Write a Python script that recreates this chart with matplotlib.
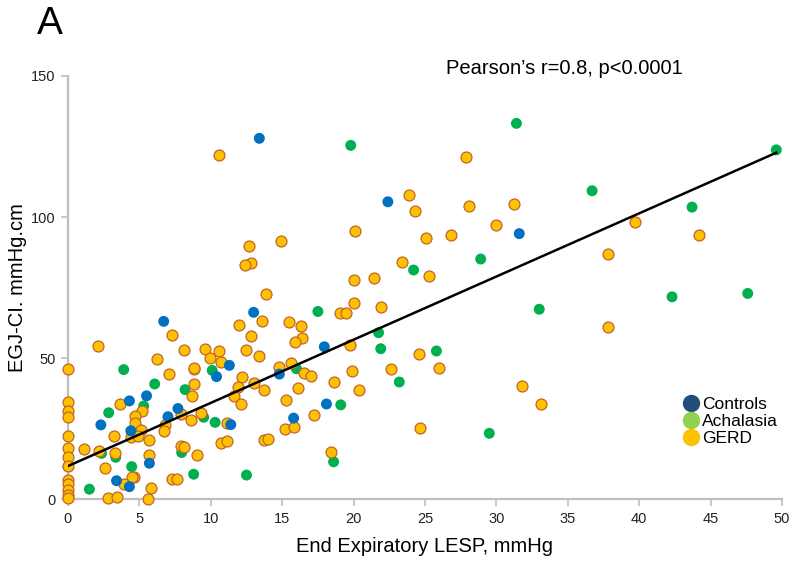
import matplotlib
matplotlib.use("Agg")
import matplotlib.pyplot as plt
from matplotlib.lines import Line2D
import numpy as np

plt.rcParams['font.family'] = ['Liberation Sans', 'DejaVu Sans']

# ---- data (End expiratory LESP mmHg, EGJ-CI mmHg.cm) ----
controls_x = [13.4, 22.4, 31.6, 13.0, 6.7, 17.95, 11.3, 10.4, 14.8, 5.5, 18.1, 7.7, 7.0,
              15.8, 11.4, 2.3, 4.3, 4.4, 5.7, 3.4, 4.3]
controls_y = [127.9, 105.4, 94.1, 66.2, 63.0, 54.0, 47.4, 43.4, 44.3, 36.6, 33.7, 32.1, 29.2,
              28.7, 26.4, 26.3, 34.8, 24.2, 12.7, 6.5, 4.4]

achalasia_x = [31.4, 19.8, 49.6, 36.7, 43.7, 28.9, 24.2, 42.3, 47.6, 33.0, 17.5, 21.75, 21.9,
               25.8, 10.1, 3.9, 16.0, 23.2, 6.07, 8.2, 19.1, 5.3, 2.85, 9.5, 10.3, 29.5, 7.96,
               2.35, 3.34, 4.46, 18.6, 12.5, 8.8, 1.5, 0.0]
achalasia_y = [133.2, 125.4, 123.8, 109.3, 103.5, 85.1, 81.2, 71.7, 72.9, 67.3, 66.5, 59.0, 53.3,
               52.5, 45.6, 45.9, 46.2, 41.5, 40.8, 38.8, 33.4, 33.0, 30.6, 29.0, 27.2, 23.3, 16.5,
               16.2, 14.8, 11.5, 13.2, 8.5, 8.8, 3.5, 11.5]

gerd_x = [0, 0, 0, 0, 0, 0, 0, 0, 0, 0, 0, 0, 0,
          10.6, 27.9, 23.9, 24.3, 28.1, 31.2, 39.7, 29.95, 20.1, 26.8, 25.1, 44.2, 14.9, 12.7,
          12.8, 12.4, 23.4, 25.3, 21.4, 20.0, 37.8, 13.9, 20.0, 21.9, 19.05, 19.5, 13.6, 15.5,
          16.3, 12.0, 37.8, 12.8, 16.4, 15.9, 7.26, 2.1, 19.75, 12.5, 8.1, 9.6, 10.6, 24.6,
          13.4, 9.96, 10.7, 6.2, 15.6, 14.8, 26.0, 22.6, 19.9, 8.8, 8.8, 7.1, 16.55, 17.0,
          12.2, 13.0, 18.6, 8.8, 31.8, 11.9, 16.1, 13.7, 20.35, 8.65, 11.6, 15.3, 12.1, 33.1,
          3.66, 5.2, 7.9, 9.3, 17.25, 4.67, 8.6, 4.7, 11.1, 6.8, 6.7, 5.1, 15.2, 15.8, 24.65,
          3.2, 4.4, 4.9, 5.7, 10.7, 11.1, 13.7, 14.0, 7.9, 8.1, 1.15, 2.2, 3.3, 18.4, 5.7,
          9.0, 2.6, 4.65, 4.5, 7.3, 7.6, 3.9, 5.8, 2.8, 3.4, 5.6]
gerd_y = [46.2, 34.5, 31.3, 29.0, 22.4, 18.1, 14.8, 11.7, 6.7, 5.2, 3.2, 1.6, 0.2,
          121.9, 121.3, 107.9, 102.0, 103.9, 104.7, 98.1, 97.0, 95.0, 93.5, 92.4, 93.6, 91.6, 89.8,
          83.6, 83.1, 83.9, 79.0, 78.5, 77.5, 86.9, 72.8, 69.6, 68.2, 66.0, 65.8, 63.3, 62.8,
          61.3, 61.8, 60.9, 57.7, 57.0, 55.6, 58.2, 54.3, 54.6, 52.9, 53.0, 53.2, 52.6, 51.4,
          50.6, 50.1, 48.6, 49.6, 48.1, 46.7, 46.3, 46.2, 45.4, 46.1, 46.6, 44.3, 44.6, 43.6,
          43.1, 41.1, 41.5, 40.9, 40.2, 39.8, 39.4, 38.5, 38.5, 36.5, 36.5, 35.0, 33.8, 33.6,
          33.7, 31.3, 30.0, 30.6, 29.8, 29.5, 27.9, 27.1, 26.8, 26.4, 24.2, 24.5, 24.8, 25.4, 25.1,
          22.2, 22.0, 22.2, 20.8, 19.7, 20.6, 20.9, 21.4, 18.8, 18.5, 17.7, 17.0, 16.2, 16.6, 15.5,
          15.6, 10.9, 7.7, 7.9, 7.1, 7.1, 5.2, 4.0, 0.35, 0.6, 0.1]

fit_intercept = 11.7
fit_slope = 2.24
fit_x_range = [0.0, 49.6]

x_ticks = [0, 5, 10, 15, 20, 25, 30, 35, 40, 45, 50]
y_ticks = [0, 50, 100, 150]

# ---- figure ----
fig = plt.figure(figsize=(8.0, 5.62), dpi=100)
ax = fig.add_axes([0.085, 0.112, 0.8925, 0.7528])

ms = 62
ax.scatter(achalasia_x, achalasia_y, s=ms, color='#00B050', edgecolors='none', zorder=3,
           clip_on=False)
ax.scatter(gerd_x, gerd_y, s=ms, color='#FFC000', edgecolors='#C0652A', linewidths=0.9,
           zorder=4, clip_on=False)
ax.scatter(controls_x, controls_y, s=ms, color='#0070C0', edgecolors='none', zorder=5,
           clip_on=False)

fx = np.array(fit_x_range)
ax.plot(fx, fit_intercept + fit_slope * fx, color='black', lw=1.8, zorder=6)

ax.set_xlim(0, 50)
ax.set_ylim(0, 150)
ax.set_xticks(x_ticks)
ax.set_yticks(y_ticks)
for s in ['top', 'right']:
    ax.spines[s].set_visible(False)
for s in ['left', 'bottom']:
    ax.spines[s].set_color('#BFBFBF')
    ax.spines[s].set_linewidth(1.6)
ax.tick_params(axis='both', direction='out', length=5, width=1.2, color='#BFBFBF',
               labelsize=10.5, labelcolor='#222222', pad=4)

ax.set_xlabel('End Expiratory LESP, mmHg', fontsize=14.5, labelpad=8)
ax.set_ylabel('EGJ-CI. mmHg.cm', fontsize=14.5)
ax.yaxis.set_label_coords(-0.058, 0.5)

fig.text(0.046, 0.958, 'A', fontsize=28, ha='left', va='center')
fig.text(0.705, 0.879, "Pearson\u2019s r=0.8, p<0.0001", fontsize=14.5, ha='center', va='center')

handles = [Line2D([], [], ls='none', marker='o', markersize=12.5, markerfacecolor=c,
                  markeredgecolor='none', label=l)
           for c, l in [('#1F4E79', 'Controls'), ('#92D050', 'Achalasia'), ('#FFC000', 'GERD')]]
ax.legend(handles=handles, loc='center left', bbox_to_anchor=(0.848, 0.183), frameon=False,
          fontsize=12.5, handletextpad=0.05, labelspacing=0.12, borderaxespad=0,
          handlelength=1.2)

fig.savefig('out.png', dpi=100)
